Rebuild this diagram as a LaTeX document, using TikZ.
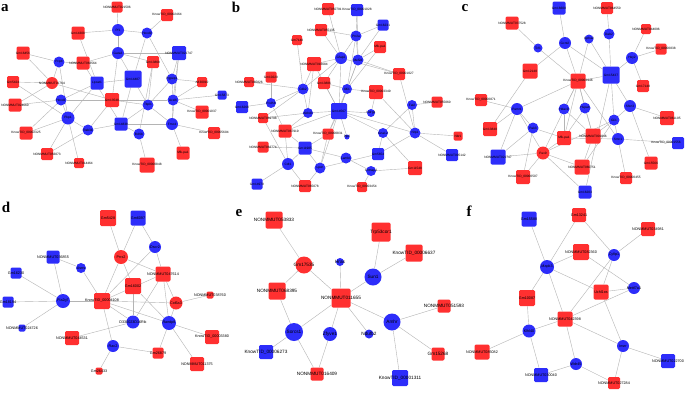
\documentclass[tikz,border=0pt]{standalone}
\usepackage{fontspec}
\setmainfont{Liberation Sans}
\newfontfamily\panelfont{Liberation Serif}
\usetikzlibrary{backgrounds}
\definecolor{nred}{RGB}{255,48,48}
\definecolor{nblue}{RGB}{45,45,250}
\definecolor{edgec}{RGB}{180,180,180}
\tikzset{
 R/.style={rectangle, rounded corners=1.3pt, fill=nred, minimum size=#1, inner sep=0pt},
 B/.style={rectangle, rounded corners=1.3pt, fill=nblue, minimum size=#1, inner sep=0pt},
 RC/.style={circle, fill=nred, minimum size=#1, inner sep=0pt},
 BC/.style={circle, fill=nblue, minimum size=#1, inner sep=0pt},
 L/.style={label={[lab]center:#1}},
 lab/.style={font=\fontsize{3.2}{3.4}\selectfont, text=black, inner sep=0pt},
 edg/.style={draw=edgec, line width=0.4pt},
 plab/.style={font=\panelfont\bfseries\fontsize{15}{15}\selectfont, inner sep=0pt}
}
\begin{document}
\begin{tikzpicture}[x=1pt,y=-1pt]
\begin{pgfonlayer}{background}
\fill[white] (0,0) rectangle (685,397);
\end{pgfonlayer}
\useasboundingbox (0,0) rectangle (685,397);
% panel letters
\node[plab] (la) at (5,8) {a};
\node[plab] (lb) at (236,7) {b};
\node[plab] (lc) at (465,8) {c};
\node[plab] (ld) at (6,207) {d};
\node[plab] (le) at (239,213) {e};
\node[plab] (lf) at (469,211) {f};

% ---------------- panel a ----------------
\node[R=11,L=NONMMUT021506] (a1) at (117,7) {};
\node[R=12,L=KnowTID\_00002464] (a2) at (167,15) {};
\node[BC=12,L=Pf1] (a3) at (118,30) {};
\node[BC=11,L=Hoxd9] (a4) at (147,33) {};
\node[R=13,L=Gm14308] (a5) at (78,33) {};
\node[R=13,L=Gm16456] (a6) at (23,53) {};
\node[BC=11,L=Pcp4] (a7) at (59,62) {};
\node[R=13,L=NONMMUT063564] (a8) at (83,63) {};
\node[BC=12,L=Gata3] (a9) at (118,53) {};
\node[B=14,L=NONMMUT021747] (a10) at (179,53) {};
\node[R=12,L=Gm13868] (a11) at (153,62) {};
\node[B=17,L=Gm14487] (a12) at (133,79) {};
\node[B=13,L=Lpcat1] (a13) at (97,83) {};
\node[RC=12,L=NONMMUT01764] (a14) at (52,83) {};
\node[R=12,L=Gm5424] (a15) at (13,82) {};
\node[BC=11,L=Pgpep1] (a16) at (172,79) {};
\node[R=10,L=A830010] (a17) at (202,82) {};
\node[B=9,L=Gm15873] (a18) at (222,95) {};
\node[R=13,L=NONMMUT024660] (a19) at (15,105) {};
\node[BC=11,L=Hoxd1] (a20) at (61,100) {};
\node[R=14,L=Gm13548] (a21) at (112,100) {};
\node[BC=11,L=Tbpl1] (a22) at (148,105) {};
\node[BC=11,L=Acsl6] (a23) at (173,100) {};
\node[R=13,L=KnowTID\_00001037] (a24) at (202,112) {};
\node[BC=13,L=Pkp1] (a25) at (68,118) {};
\node[B=13,L=Gm14838] (a26) at (121,124) {};
\node[BC=11,L=Rab3b] (a27) at (88,130) {};
\node[BC=11,L=Bcl6b] (a28) at (139,134) {};
\node[BC=12,L=Fmo4] (a29) at (172,124) {};
\node[R=12,L=KnowTID\_00005604] (a30) at (214,133) {};
\node[R=13,L=KnowTID\_00002325] (a31) at (26,133) {};
\node[R=12,L=NONMMUT056073] (a32) at (47,154) {};
\node[R=13,L=Mlk-pa1] (a33) at (183,153) {};
\node[R=10,L=NONMMUT014464] (a34) at (79,163) {};
\node[R=15,L=KnowTID\_00000848] (a35) at (147,165) {};

% ---------------- panel b ----------------
\node[R=12,L=NONMMUT050791] (b1) at (328,9) {};
\node[B=12,L=KnowTID\_00001028] (b2) at (357,10) {};
\node[B=11,L=Gm16231] (b3) at (383,25) {};
\node[R=12,L=NONMMUT055135] (b4) at (321,30) {};
\node[BC=11,L=Prr2a] (b5) at (356,36) {};
\node[R=10,L=Gm7148] (b6) at (297,40) {};
\node[R=12,L=Mlk-pa1] (b7) at (380,47) {};
\node[BC=12,L=Gfap2] (b8) at (341,58) {};
\node[BC=11,L=Mef2d] (b9) at (358,60) {};
\node[R=14,L=NONMMUT016684] (b10) at (314,64) {};
\node[R=11,L=Gm10220] (b11) at (271,77) {};
\node[R=10,L=NONMMUT065826] (b12) at (249,82) {};
\node[R=12,L=KnowTID\_00001027] (b13) at (399,74) {};
\node[R=12,L=Gm13886] (b14) at (324,83) {};
\node[BC=11,L=Cdk2] (b15) at (303,89) {};
\node[BC=10,L=Il4i1] (b16) at (347,89) {};
\node[R=14,L=KnowTID\_00003349] (b17) at (376,92) {};
\node[BC=10,L=Pcdh8] (b18) at (271,103) {};
\node[B=12,L=Gm16266] (b19) at (242,107) {};
\node[B=16,L=Gm14567] (b20) at (339,111) {};
\node[BC=10,L=Abhd3] (b21) at (308,113) {};
\node[BC=8,L=Ndrg4] (b22) at (371,113) {};
\node[BC=10,L=Fat2] (b23) at (412,105) {};
\node[R=11,L=NONMMUT055060] (b24) at (437,102) {};
\node[R=10,L=NONMMUT069798] (b25) at (263,118) {};
\node[R=13,L=NONMMUT067919] (b26) at (285,131) {};
\node[R=11,L=KnowTID\_00000831] (b27) at (328,134) {};
\node[BC=5,L=Plp2] (b28) at (347,137) {};
\node[BC=10,L=Gna12] (b29) at (383,133) {};
\node[BC=11,L=Nrp1] (b30) at (415,133) {};
\node[R=9,L=Nbr1] (b31) at (458,136) {};
\node[R=11,L=NONMMUT062774] (b32) at (263,147) {};
\node[B=13,L=Gm11985] (b33) at (305,148) {};
\node[BC=12,L=Cdt1] (b34) at (288,164) {};
\node[BC=11,L=Lpxn] (b35) at (320,168) {};
\node[BC=11,L=Lamb1] (b36) at (346,158) {};
\node[B=12,L=Gm5654] (b37) at (378,154) {};
\node[B=12,L=NONMMUT005142] (b38) at (452,155) {};
\node[R=14,L=Gm11548] (b39) at (415,168) {};
\node[BC=10,L=Cntnap2] (b40) at (371,171) {};
\node[B=11,L=Gm14970] (b41) at (257,184) {};
\node[R=12,L=NONMMUT065078] (b42) at (305,186) {};
\node[R=10,L=KnowTID\_00003454] (b43) at (362,187) {};

% ---------------- panel c ----------------
\node[B=13,L=Gm16608] (c1) at (559,8) {};
\node[R=12,L=NONMMUT064550] (c2) at (607,8) {};
\node[R=13,L=NONMMUT037528] (c3) at (512,23) {};
\node[R=10,L=NONMMUT044096] (c4) at (646,29) {};
\node[BC=11,L=Dab2] (c5) at (609,34) {};
\node[BC=9,L=Gpha2] (c6) at (589,39) {};
\node[BC=12,L=Gcnt2] (c7) at (565,43) {};
\node[BC=9,L=Tcf1] (c8) at (538,48) {};
\node[R=11,L=KnowTID\_00000838] (c9) at (661,49) {};
\node[BC=12,L=Hey2] (c10) at (632,58) {};
\node[R=15,L=Gm12148] (c11) at (530,71) {};
\node[R=15,L=KnowTID\_00003946] (c12) at (578,81) {};
\node[B=17,L=Gm15437] (c13) at (611,75) {};
\node[R=12,L=Gm17148] (c14) at (643,86) {};
\node[R=12,L=KnowTID\_00000871] (c15) at (481,100) {};
\node[BC=12,L=Pamr1] (c16) at (517,109) {};
\node[BC=11,L=Hdac9] (c17) at (564,109) {};
\node[BC=11,L=Hspa4] (c18) at (585,108) {};
\node[BC=12,L=Sfxn3] (c19) at (630,106) {};
\node[BC=11,L=Gli1] (c20) at (614,120) {};
\node[R=14,L=NONMMUT061105] (c21) at (667,118) {};
\node[R=14,L=Gm13848] (c22) at (490,129) {};
\node[BC=11,L=Pak3] (c23) at (533,128) {};
\node[R=14,L=Mlk-pa1] (c24) at (564,138) {};
\node[R=15,L=NONMMUT001846] (c25) at (593,136) {};
\node[BC=12,L=Smc1] (c26) at (618,139) {};
\node[B=12,label={[lab,xshift=-12pt]center:KnowTID\_00001556}] (c27) at (678,143) {};
\node[B=15,L=NONMMUT021747] (c28) at (498,157) {};
\node[RC=13,L=Pax9] (c29) at (543,153) {};
\node[R=13,L=Gm15566] (c30) at (651,163) {};
\node[R=15,L=NONMMUT060751] (c31) at (582,167) {};
\node[R=14,L=KnowTID\_00000507] (c32) at (523,177) {};
\node[R=12,L=KnowTID\_00000455] (c33) at (626,178) {};
\node[B=13,L=Gm16203] (c34) at (585,192) {};

% ---------------- panel d ----------------
\begin{scope}[lab/.style={font=\fontsize{3.7}{3.9}\selectfont, text=black, inner sep=0pt}]
\node[R=16,L=Gm5428] (d1) at (108,218) {};
\node[B=15,L=Gm6097] (d2) at (138,218) {};
\node[BC=12,L=Dscr2] (d3) at (155,247) {};
\node[RC=14,L=Prrx2] (d4) at (121,257) {};
\node[B=13,L=NONMMUT036855] (d5) at (53,257) {};
\node[BC=10,L=Asns] (d6) at (81,268) {};
\node[R=15,L=NONMMUT047614] (d7) at (163,274) {};
\node[R=16,L=Gm16002] (d8) at (133,286) {};
\node[B=11,L=Gm16230] (d9) at (16,273) {};
\node[B=11,L=Gm18194] (d10) at (8,302) {};
\node[BC=14,L=Pla2g7] (d11) at (63,301) {};
\node[R=16,L=KnowTID\_00004108] (d12) at (102,301) {};
\node[RC=13,L=Col6a3] (d13) at (176,303) {};
\node[R=7,L=NONMMUT038760] (d14) at (210,295) {};
\node[BC=13,L=D330023D16Rik] (d15) at (133,322) {};
\node[BC=14,L=Randp8] (d16) at (169,323) {};
\node[B=7,L=NONMMUT024726] (d17) at (22,328) {};
\node[R=14,L=NONMMUT044531] (d18) at (72,338) {};
\node[R=14,L=KnowTID\_00003380] (d19) at (212,337) {};
\node[BC=12,L=Rac2] (d20) at (113,346) {};
\node[R=11,L=Gm26879] (d21) at (158,353) {};
\node[R=14,L=NONMMUT011375] (d22) at (197,364) {};
\node[R=7,L=Gm26433] (d23) at (99,371) {};
\end{scope}

% ---------------- panel e ----------------
\begin{scope}[lab/.style={font=\fontsize{4.7}{5}\selectfont, text=black, inner sep=0pt}]
\node[R=17,L=NONMMUT053833] (e1) at (274,220) {};
\node[R=19,L=Trp53cor1] (e2) at (381,232) {};
\node[R=17,L=KnowTID\_00006637] (e3) at (414,253) {};
\node[RC=17,L=Gm17535] (e4) at (304,265) {};
\node[BC=8,L=Hras] (e5) at (340,262) {};
\node[BC=17,L=Sun1] (e6) at (373,277) {};
\node[R=17,L=NONMMUT068395] (e7) at (277,291) {};
\node[R=19,L=NONMMUT011655] (e8) at (341,298) {};
\node[R=13,L=NONMMUT051593] (e9) at (444,306) {};
\node[BC=17,L=Amhr] (e10) at (392,322) {};
\node[BC=18,L=Sorcs1] (e11) at (294,332) {};
\node[BC=14,L=Zfyve1] (e12) at (330,334) {};
\node[BC=9,L=Ndufb2] (e13) at (369,334) {};
\node[B=14,L=KnowTID\_00006273] (e14) at (266,352) {};
\node[R=13,L=Gm15268] (e15) at (438,354) {};
\node[R=13,L=NONMMUT016409] (e16) at (317,374) {};
\node[B=16,L=KnowTID\_00001311] (e17) at (400,378) {};
\end{scope}

% ---------------- panel f ----------------
\begin{scope}[lab/.style={font=\fontsize{3.7}{3.9}\selectfont, text=black, inner sep=0pt}]
\node[B=15,L=Gm15588] (f1) at (529,219) {};
\node[R=14,L=Gm13241] (f2) at (579,215) {};
\node[R=14,L=NONMMUT034981] (f3) at (648,229) {};
\node[R=16,L=NONMMUT082360] (f4) at (581,252) {};
\node[BC=12,L=Cyfip1] (f5) at (614,255) {};
\node[BC=14,L=Mapk3] (f6) at (547,267) {};
\node[BC=12,L=Mettl7a1] (f7) at (634,288) {};
\node[R=16,L=Gm10087] (f8) at (527,298) {};
\node[R=15,L=Uchl1os] (f9) at (601,292) {};
\node[R=15,L=NONMMUT042398] (f10) at (565,319) {};
\node[BC=13,L=Klhl40] (f11) at (529,331) {};
\node[BC=12,L=Insrr] (f12) at (623,346) {};
\node[R=15,L=NONMMUT085082] (f13) at (482,352) {};
\node[B=14,L=NONMMUT022700] (f14) at (668,361) {};
\node[BC=12,L=Wdr45] (f15) at (576,364) {};
\node[B=14,L=NONMMUT030040] (f16) at (541,375) {};
\node[R=12,L=NONMMUT027284] (f17) at (614,383) {};
\end{scope}

\begin{pgfonlayer}{background}
% a
\foreach \u/\v in {a1/a3,a2/a4,a3/a5,a3/a9,a3/a4,a4/a12,a4/a16,a5/a13,a6/a7,a6/a14,a7/a8,a7/a25,a7/a14,a8/a9,a9/a10,a9/a12,a9/a21,a9/a11,a10/a16,a10/a23,a10/a29,a11/a22,a11/a28,a12/a13,a12/a26,a12/a22,a13/a20,a13/a25,a14/a15,a14/a19,a14/a21,a15/a25,a16/a17,a16/a22,a16/a23,a17/a23,a18/a23,a19/a20,a20/a25,a20/a21,a21/a22,a21/a23,a21/a27,a22/a26,a23/a24,a23/a29,a22/a29,a25/a27,a25/a31,a25/a32,a25/a34,a26/a27,a26/a28,a29/a30,a29/a33,a29/a26,a31/a20,a8/a26,a28/a35,a27/a32}
  \draw[edg] (\u) -- (\v);
% b
\foreach \u/\v in {b1/b8,b2/b5,b2/b9,b3/b5,b3/b9,b4/b5,b4/b8,b6/b15,b5/b8,b5/b9,b5/b16,b7/b9,b7/b16,b8/b10,b8/b14,b8/b20,b8/b15,b8/b13,b9/b13,b9/b16,b9/b20,b10/b15,b10/b21,b10/b20,b11/b18,b12/b15,b13/b30,b14/b16,b14/b20,b15/b18,b15/b21,b15/b25,b16/b17,b16/b20,b16/b27,b17/b30,b17/b22,b18/b19,b18/b26,b20/b21,b20/b22,b20/b26,b20/b27,b20/b28,b20/b29,b20/b35,b20/b30,b23/b24,b23/b30,b23/b29,b21/b25,b25/b34,b26/b33,b26/b34,b27/b33,b27/b35,b29/b37,b29/b39,b30/b31,b30/b37,b30/b38,b32/b33,b33/b36,b33/b35,b34/b41,b34/b42,b35/b42,b35/b37,b36/b40,b40/b39,b40/b43,b33/b34,b21/b26}
  \draw[edg] (\u) -- (\v);
% c
\foreach \u/\v in {c1/c7,c2/c5,c3/c8,c4/c10,c5/c13,c6/c12,c6/c13,c7/c11,c7/c12,c7/c13,c8/c12,c9/c10,c10/c13,c10/c14,c12/c13,c12/c16,c12/c17,c12/c18,c12/c24,c12/c25,c12/c29,c12/c26,c11/c22,c13/c19,c13/c20,c15/c16,c16/c22,c16/c28,c16/c29,c16/c23,c17/c24,c17/c25,c18/c24,c18/c25,c19/c20,c19/c21,c19/c30,c20/c25,c20/c26,c20/c29,c23/c24,c23/c28,c23/c32,c24/c29,c24/c26,c25/c31,c26/c27,c26/c33,c28/c29,c29/c31,c29/c32,c29/c34,c31/c20,c13/c34}
  \draw[edg] (\u) -- (\v);
% d
\foreach \u/\v in {d1/d4,d2/d4,d2/d3,d3/d7,d3/d12,d4/d12,d4/d7,d4/d8,d5/d6,d5/d11,d6/d12,d9/d11,d10/d11,d17/d11,d11/d12,d12/d13,d12/d15,d12/d16,d12/d20,d7/d12,d8/d15,d8/d16,d7/d15,d7/d13,d7/d16,d13/d14,d13/d16,d15/d18,d16/d21,d16/d19,d16/d22,d20/d21,d20/d23}
  \draw[edg] (\u) -- (\v);
% e
\foreach \u/\v in {e1/e4,e4/e7,e4/e8,e5/e8,e2/e6,e3/e6,e6/e8,e7/e11,e8/e11,e8/e12,e8/e13,e8/e10,e10/e9,e10/e15,e10/e17,e11/e14,e11/e16,e12/e16}
  \draw[edg] (\u) -- (\v);
% f
\foreach \u/\v in {f1/f6,f2/f6,f2/f5,f3/f5,f4/f6,f4/f7,f6/f8,f6/f9,f6/f10,f5/f9,f5/f10,f9/f7,f9/f12,f10/f7,f10/f11,f10/f12,f10/f15,f8/f11,f11/f13,f11/f16,f15/f16,f15/f17,f12/f14,f12/f17}
  \draw[edg] (\u) -- (\v);
\end{pgfonlayer}
\end{tikzpicture}
\end{document}
